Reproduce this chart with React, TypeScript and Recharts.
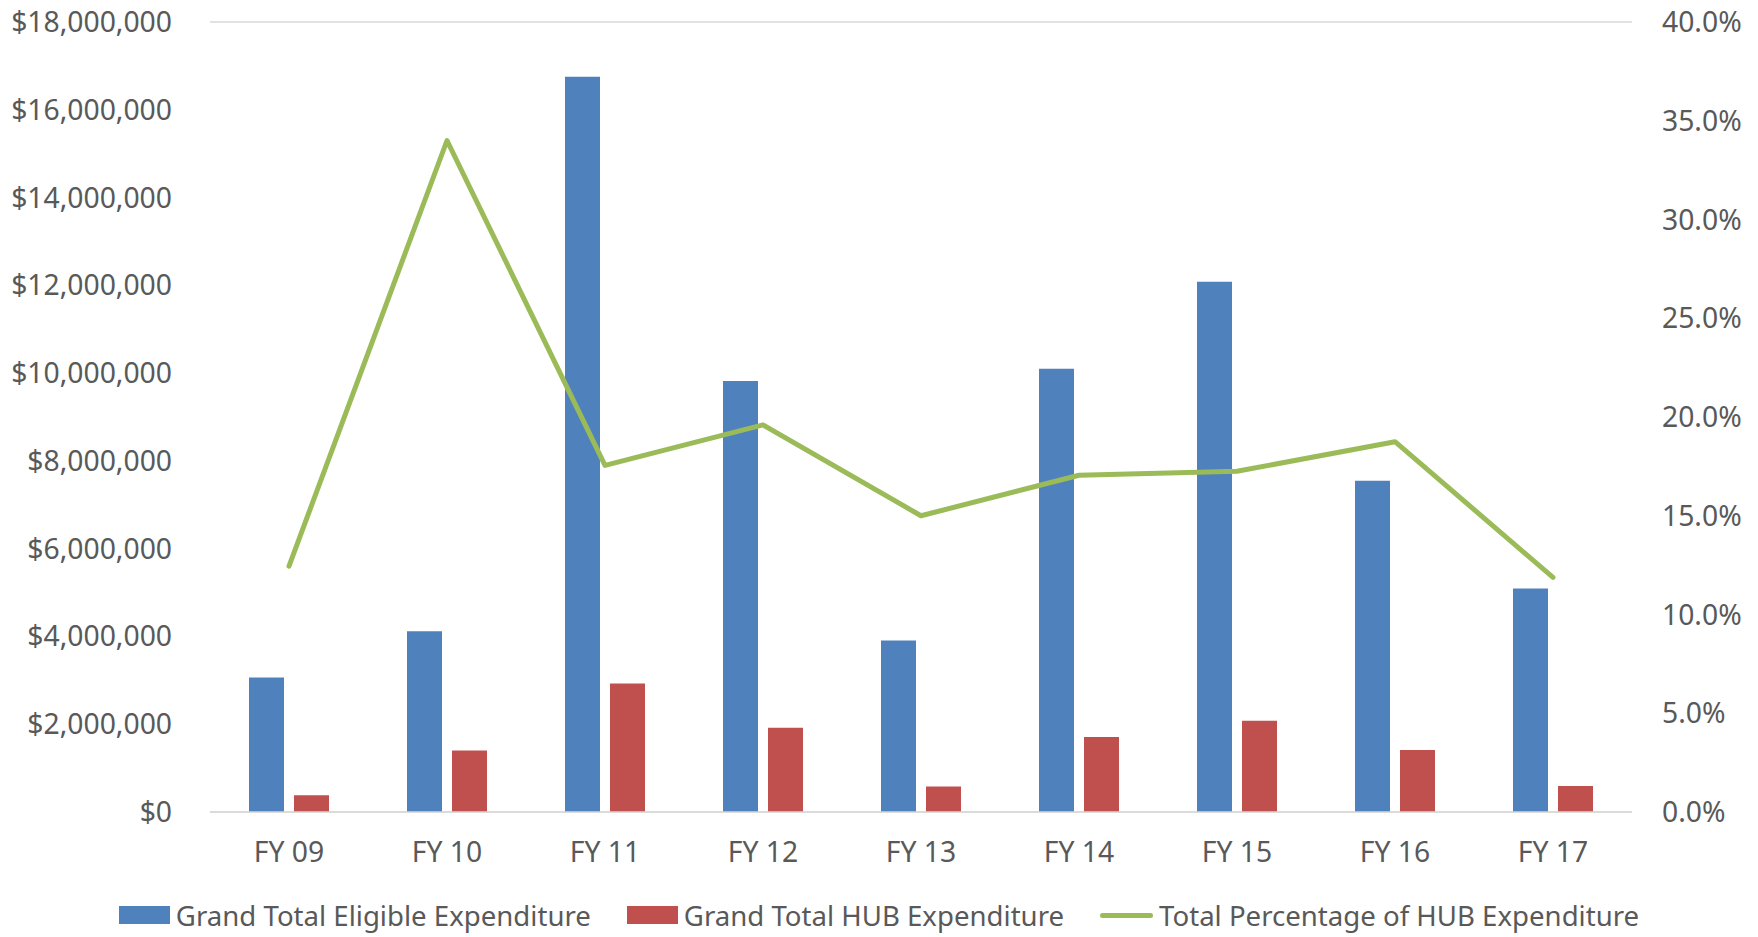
import React from 'react';
import {
  ComposedChart,
  Bar,
  Line,
  XAxis,
  YAxis,
  CartesianGrid,
  Legend,
} from 'recharts';

const years = ['FY 09', 'FY 10', 'FY 11', 'FY 12', 'FY 13', 'FY 14', 'FY 15', 'FY 16', 'FY 17'];
const eligible = [3065000, 4120000, 16750000, 9820000, 3910000, 10100000, 12080000, 7550000, 5090000];
const hub = [380000, 1400000, 2930000, 1920000, 580000, 1710000, 2080000, 1410000, 590000];
const hubPct = [12.45, 34.0, 17.55, 19.6, 15.0, 17.05, 17.25, 18.75, 11.88];

const leftTicks = [0, 2000000, 4000000, 6000000, 8000000, 10000000, 12000000, 14000000, 16000000, 18000000];
const rightTicks = [0, 5, 10, 15, 20, 25, 30, 35, 40];

const data = years.map((year, i) => ({
  year,
  eligible: eligible[i],
  hub: hub[i],
  pct: hubPct[i],
}));

const FONT = '"Noto Sans", sans-serif';
const TEXT = '#595959';
const BLUE = '#4F81BD';
const RED = '#C0504D';
const GREEN = '#9BBB59';

const tickStyle = { fontSize: 28.3, fill: TEXT, fontFamily: FONT };

const LegendContent = () => {
  const item = (swatch: React.ReactNode, label: string) => (
    <div style={{ display: 'flex', alignItems: 'center', gap: 6 }}>
      {swatch}
      <span>{label}</span>
    </div>
  );
  return (
    <div
      style={{
        display: 'flex',
        justifyContent: 'center',
        gap: 36,
        fontFamily: FONT,
        fontSize: 27.6,
        color: TEXT,
        lineHeight: '40px',
      }}
    >
      {item(<div style={{ width: 51, height: 18, background: BLUE }} />, 'Grand Total Eligible Expenditure')}
      {item(<div style={{ width: 51, height: 18, background: RED }} />, 'Grand Total HUB Expenditure')}
      {item(
        <div style={{ width: 53, height: 5, background: GREEN, borderRadius: 3 }} />,
        'Total Percentage of HUB Expenditure'
      )}
    </div>
  );
};

export default function App() {
  return (
    <div style={{ width: 1758, height: 937, background: '#fff' }}>
      <style>{'body{margin:0}'}</style>
      <ComposedChart
        width={1758}
        height={937}
        data={data}
        margin={{ top: 22, right: 0, bottom: 0, left: 0 }}
        barGap={10}
        barSize={35}
      >
        <CartesianGrid vertical={false} stroke="#D9D9D9" strokeWidth={1.5} />
        <XAxis
          dataKey="year"
          height={83}
          tick={tickStyle}
          tickLine={false}
          tickSize={0}
          tickMargin={30}
          axisLine={{ stroke: '#D9D9D9', strokeWidth: 1.5 }}
        />
        <YAxis
          yAxisId="left"
          width={210}
          domain={[0, 18000000]}
          ticks={leftTicks}
          tick={tickStyle}
          tickLine={false}
          tickSize={0}
          tickMargin={38}
          axisLine={false}
          tickFormatter={(v: number) => `$${v.toLocaleString('en-US')}`}
        />
        <YAxis
          yAxisId="right"
          orientation="right"
          width={126}
          domain={[0, 40]}
          ticks={rightTicks}
          tick={{ ...tickStyle, textAnchor: 'start' }}
          tickLine={false}
          tickSize={0}
          tickMargin={30}
          axisLine={false}
          tickFormatter={(v: number) => `${v.toFixed(1)}%`}
        />
        <Legend verticalAlign="bottom" height={42} content={<LegendContent />} />
        <Bar
          yAxisId="left"
          dataKey="eligible"
          name="Grand Total Eligible Expenditure"
          fill={BLUE}
          isAnimationActive={false}
        />
        <Bar
          yAxisId="left"
          dataKey="hub"
          name="Grand Total HUB Expenditure"
          fill={RED}
          isAnimationActive={false}
        />
        <Line
          yAxisId="right"
          dataKey="pct"
          name="Total Percentage of HUB Expenditure"
          stroke={GREEN}
          strokeWidth={5}
          strokeLinejoin="round"
          strokeLinecap="round"
          dot={false}
          activeDot={false}
          isAnimationActive={false}
        />
      </ComposedChart>
    </div>
  );
}
